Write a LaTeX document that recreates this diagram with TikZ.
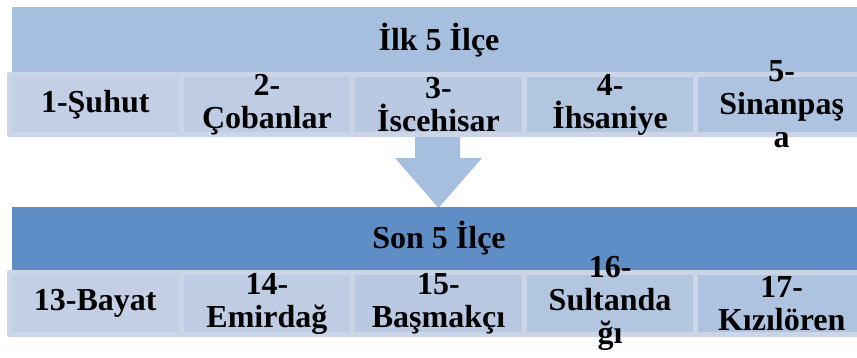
\documentclass[tikz,border=0pt]{standalone}
\usepackage{fontspec}
\setmainfont{Liberation Serif}[BoldFont={Liberation Serif Bold}]
\usepackage{xcolor}
\usetikzlibrary{positioning}

\definecolor{bandlight}{RGB}{167,191,222}
\definecolor{banddark}{RGB}{95,141,197}
\definecolor{framecol}{RGB}{203,213,232}
\definecolor{cellL}{RGB}{196,207,229}
\definecolor{cellR}{RGB}{174,195,223}

\begin{document}
\begin{tikzpicture}[x=1pt, y=-1pt,
  every node/.style={font=\fontsize{32}{33}\selectfont\bfseries, align=center,
    inner sep=0pt, outer sep=0pt},
  band/.style={minimum width=854pt, minimum height=#1},
  rowframe/.style={fill=framecol, rounded corners=2pt,
    minimum width=864pt, minimum height=#1},
  cellbox/.style={minimum width=166.6pt, minimum height=#1},
  node distance=5pt]
  \clip (0,0) rectangle (857,357);

  % upper group
  \node[band=66pt, fill=bandlight] (top) at (439,40) {İlk 5 İlçe};
  \node[rowframe=65pt] (topframe) at (439,104.5) {};
  \node[cellbox=55pt, fill=cellL] (a1) at (95.3,104.5) {};
  \node[cellbox=55pt, fill=cellR!25!cellL, right=of a1] (a2) {};
  \node[cellbox=55pt, fill=cellR!50!cellL, right=of a2] (a3) {};
  \node[cellbox=55pt, fill=cellR!75!cellL, right=of a3] (a4) {};
  \node[cellbox=55pt, fill=cellR, right=of a4] (a5) {};
  \node (ta1) at (a1) {1-Şuhut};
  \node (ta2) at (a2) {2-\\Çobanlar};
  \node (ta3) at (a3) {3-\\İscehisar};
  \node (ta4) at (a4) {4-\\İhsaniye};
  \node (ta5) at (a5) {5-\\Sinanpaş\\a};

  % arrow between the groups
  \fill[bandlight] (415,137) -- (460,137) -- (460,158) -- (482,158)
    -- (438.5,208) -- (395,158) -- (415,158) -- cycle;

  % lower group
  \node[band=63pt, fill=banddark] (bottom) at (439,238.5) {Son 5 İlçe};
  \node[rowframe=67pt] (botframe) at (439,303.5) {};
  \node[cellbox=57pt, fill=cellL] (b1) at (95.3,303.5) {};
  \node[cellbox=57pt, fill=cellR!25!cellL, right=of b1] (b2) {};
  \node[cellbox=57pt, fill=cellR!50!cellL, right=of b2] (b3) {};
  \node[cellbox=57pt, fill=cellR!75!cellL, right=of b3] (b4) {};
  \node[cellbox=57pt, fill=cellR, right=of b4] (b5) {};
  \node (tb1) at (b1) {13-Bayat};
  \node (tb2) at (b2) {14-\\Emirdağ};
  \node (tb3) at (b3) {15-\\Başmakçı};
  \node (tb4) at (b4) {16-\\Sultanda\\ğı};
  \node (tb5) at (b5) {17-\\Kızılören};
\end{tikzpicture}
\end{document}
